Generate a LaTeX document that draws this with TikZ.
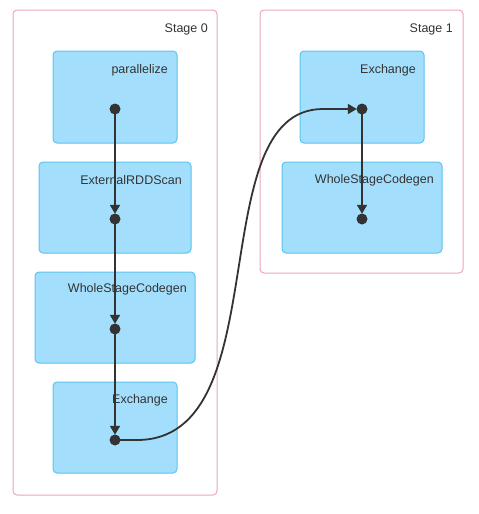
\documentclass[tikz,border=0pt]{standalone}
\usepackage{fontspec}
\setmainfont{Liberation Sans}
\usetikzlibrary{arrows.meta}
\definecolor{stageborder}{HTML}{EBA6BE}
\definecolor{opfill}{HTML}{A3DFFC}
\definecolor{opborder}{HTML}{5CC4EE}
\definecolor{ink}{HTML}{333333}
\begin{document}
\begin{tikzpicture}[x=1pt,y=-1pt,
  stagebox/.style={draw=stageborder,line width=1pt,rounded corners=4pt,fill=white},
  opbox/.style={draw=opborder,line width=1pt,fill=opfill,rounded corners=4pt},
  lbl/.style={text=ink,font=\fontsize{12.5}{14}\selectfont,anchor=east,inner sep=0pt},
  dot/.style={circle,fill=ink,inner sep=0pt,minimum size=11pt},
  flow/.style={draw=ink,line width=1.8pt,-{Triangle[length=9pt,width=10pt]},shorten >=-0.5pt}
]
\useasboundingbox (0,0) rectangle (479,514);
% stages
\draw[stagebox] (13,10) rectangle (217,495);
\draw[stagebox] (260,10) rectangle (463,273);
\node[lbl] (s0) at (208,29) {Stage 0};
\node[lbl] (s1) at (453,29) {Stage 1};
% stage 0 operators
\draw[opbox] (53,51) rectangle (177,143);
\node[lbl] (l1) at (168,70) {parallelize};
\draw[opbox] (39,162) rectangle (191,253);
\node[lbl] (l2) at (182,180) {ExternalRDDScan};
\draw[opbox] (35,272) rectangle (195,363);
\node[lbl] (l3) at (187,289) {WholeStageCodegen};
\draw[opbox] (53,382) rectangle (177,473);
\node[lbl] (l4) at (168,400) {Exchange};
% stage 1 operators
\draw[opbox] (300,51) rectangle (424,143);
\node[lbl] (l5) at (416,70) {Exchange};
\draw[opbox] (282,162) rectangle (442,253);
\node[lbl] (l6) at (434,180) {WholeStageCodegen};
% dots
\node[dot] (d1) at (115,109) {};
\node[dot] (d2) at (115,219) {};
\node[dot] (d3) at (115,329) {};
\node[dot] (d4) at (115,440) {};
\node[dot] (d5) at (362,109) {};
\node[dot] (d6) at (362,219) {};
% edges
\draw[flow] (d1.center) -- (d2.north);
\draw[flow] (d2.center) -- (d3.north);
\draw[flow] (d3.center) -- (d4.north);
\draw[flow] (d5.center) -- (d6.north);
\draw[flow] (d4.center) -- (137,440) .. controls (280,440) and (200,109) .. (323,109) -- (d5.west);
\end{tikzpicture}
\end{document}
